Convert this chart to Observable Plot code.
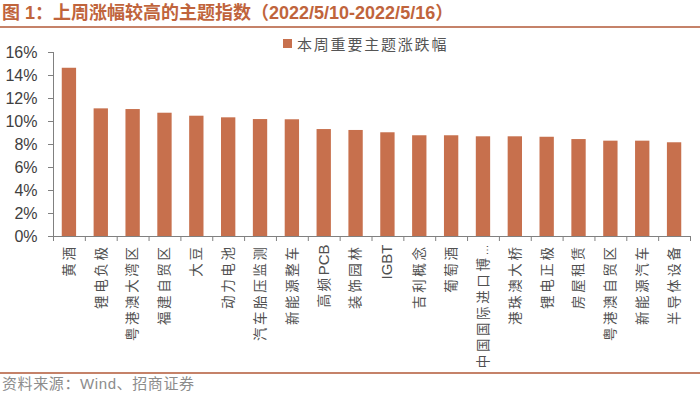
<!DOCTYPE html>
<html>
<head>
<meta charset="utf-8">
<script src="https://cdn.jsdelivr.net/npm/d3@7"></script>
<script src="https://cdn.jsdelivr.net/npm/@observablehq/plot@0.6"></script>
<style>
  html, body { margin: 0; padding: 0; background: #fff; }
  body { width: 700px; height: 395px; position: relative; overflow: hidden; font-family: "Liberation Sans", "Noto Sans CJK SC", sans-serif; }
  #title { position: absolute; left: 2px; top: 2px; font-size: 18px; font-weight: bold; color: #C0643C; white-space: nowrap; line-height: 22px; }
  #tline { position: absolute; left: 0; top: 26px; width: 700px; height: 2px; background: #C58269; }
  #chart { position: absolute; left: 0; top: 30px; }
  #legend { position: absolute; left: 283px; top: 33px; height: 20px; display: flex; align-items: center; font-size: 15px; letter-spacing: 1.8px; color: #555; white-space: nowrap; }
  #legend .sw { width: 9px; height: 9px; margin-right: 5px; }
  #fline { position: absolute; left: 0; top: 372px; width: 700px; height: 2px; background: #C58269; }
  #source { position: absolute; left: 2px; top: 375px; font-size: 15px; letter-spacing: 0.6px; color: #8c8c8c; white-space: nowrap; line-height: 18px; }
</style>
</head>
<body>
<div id="title"></div>
<div id="tline"></div>
<div id="chart"></div>
<div id="legend"></div>
<div id="fline"></div>
<div id="source"></div>
<script>
// ---- data ----
const titleText = "图 1：上周涨幅较高的主题指数（2022/5/10-2022/5/16）";
const sourceText = "资料来源：Wind、招商证券";
const seriesName = "本周重要主题涨跌幅";
const categories = ["黄酒","锂电负极","粤港澳大湾区","福建自贸区","大豆","动力电池","汽车胎压监测","新能源整车","高频PCB","装饰园林","IGBT","吉利概念","葡萄酒","中国国际进口博…","港珠澳大桥","锂电正极","房屋租赁","粤港澳自贸区","新能源汽车","半导体设备"];
const changes = [14.63,11.10,11.04,10.72,10.46,10.32,10.17,10.15,9.30,9.22,9.02,8.76,8.76,8.67,8.67,8.63,8.43,8.29,8.29,8.15];
const yTicks = [0,2,4,6,8,10,12,14,16];

const barColor = "#C7704D";
const axisColor = "#808080";

document.getElementById("title").textContent = titleText;
document.getElementById("source").textContent = sourceText;
const legend = document.getElementById("legend");
legend.innerHTML = `<div class="sw" style="background:${barColor}"></div><span></span>`;
legend.querySelector("span").textContent = seriesName;

const data = categories.map((c, i) => ({name: c, value: changes[i]}));

const W = 700, H = 340, mL = 53, mR = 10, mT = 22, mB = 134;
const step = (W - mL - mR) / categories.length;

const plot = Plot.plot({
  width: W, height: H,
  marginTop: mT, marginBottom: mB, marginLeft: mL, marginRight: mR,
  style: {fontFamily: '"Liberation Sans","Noto Sans CJK SC",sans-serif', background: "transparent", overflow: "visible"},
  x: {domain: categories, paddingInner: 0.55, paddingOuter: 0.275, round: false, label: null},
  y: {domain: [0, 16], label: null},
  marks: [
    Plot.barY(data, {x: "name", y: "value", fill: barColor}),
    Plot.ruleY([0], {stroke: axisColor}),
    Plot.ruleX([categories[0]], {x: d => d, y1: 0, y2: 16, dx: -step / 2, stroke: axisColor}),
    Plot.ruleX(categories, {x: d => d, y1: 0, y2: 0, dx: -step / 2, insetBottom: -5, stroke: axisColor}),
    Plot.ruleX([categories[categories.length - 1]], {x: d => d, y1: 0, y2: 0, dx: step / 2, insetBottom: -5, stroke: axisColor}),
    Plot.axisY({ticks: yTicks, tickFormat: d => d + "%", tickSize: 5, tickPadding: 11, fontSize: 16, stroke: axisColor, fill: "#404040", label: null}),
    Plot.axisX({tickRotate: -90, tickSize: 0, tickPadding: 8, fontSize: 13.5, fill: "#505050", label: null})
  ]
});

// letter spacing for CJK runs in x tick labels
const ns = "http://www.w3.org/2000/svg";
plot.querySelectorAll('g[aria-label="x-axis tick label"] text').forEach(t => {
  const s = t.textContent;
  t.textContent = "";
  const parts = s.match(/[A-Za-z0-9]+|…|[^A-Za-z0-9…]+/g) || [];
  parts.forEach(p => {
    const ts = document.createElementNS(ns, "tspan");
    ts.textContent = p;
    if (p === "…") {
      ts.setAttribute("letter-spacing", "0");
      ts.setAttribute("font-size", "11");
    } else if (/[A-Za-z0-9]/.test(p)) {
      ts.setAttribute("letter-spacing", "0");
      ts.setAttribute("font-size", "15");
    } else {
      ts.setAttribute("letter-spacing", "2.6px");
    }
    t.appendChild(ts);
  });
});

document.getElementById("chart").appendChild(plot);
</script>
</body>
</html>
